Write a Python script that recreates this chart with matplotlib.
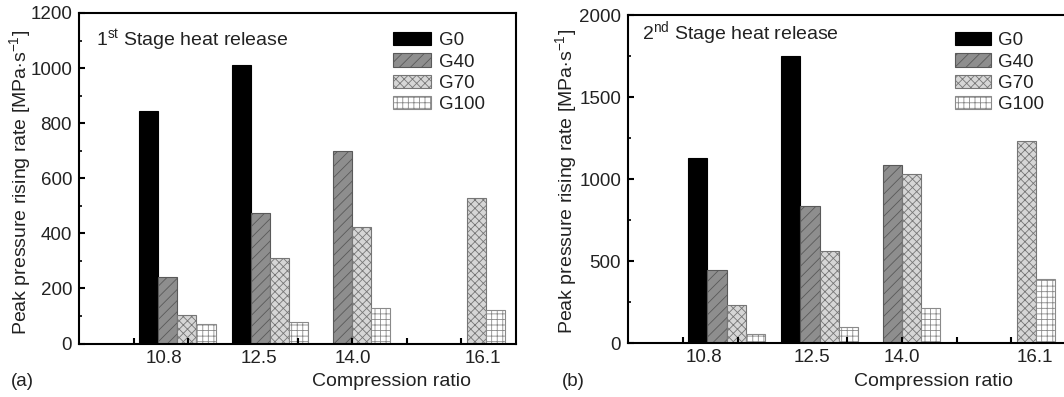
import numpy as np
import matplotlib
matplotlib.use("Agg")
import matplotlib.pyplot as plt
from matplotlib.ticker import MultipleLocator

plt.rcParams['font.family'] = ['Liberation Sans', 'DejaVu Sans']
plt.rcParams['mathtext.fontset'] = 'custom'
plt.rcParams['mathtext.rm'] = 'Liberation Sans'
plt.rcParams['mathtext.it'] = 'Liberation Sans:italic'
plt.rcParams['mathtext.bf'] = 'Liberation Sans:bold'
plt.rcParams['hatch.linewidth'] = 0.6

# ---- data ----
compression_ratio = [10.8, 12.5, 14.0, 16.1]
tick_labels = ["10.8", "12.5", "14.0", "16.1"]
series = ["G0", "G40", "G70", "G100"]

stage1_G0 = [845, 1010, np.nan, np.nan]
stage1_G40 = [240, 475, 700, np.nan]
stage1_G70 = [105, 312, 422, 527]
stage1_G100 = [70, 78, 130, 120]

stage2_G0 = [1128, 1752, np.nan, np.nan]
stage2_G40 = [448, 838, 1088, np.nan]
stage2_G70 = [230, 563, 1030, 1233]
stage2_G100 = [57, 98, 216, 388]

# ---- styles ----
W, H = 1064, 397
fig = plt.figure(figsize=(W / 100, H / 100), dpi=100)

styles = {
    "G0": dict(facecolor="black", edgecolor="black", hatch=None),
    "G40": dict(facecolor="#8e8e8e", edgecolor="#595959", hatch="///"),
    "G70": dict(facecolor="#d6d6d6", edgecolor="#767676", hatch="xxxx"),
    "G100": dict(facecolor="white", edgecolor="#8a8a8a", hatch="+++"),
}

text_color = "#222222"


def px_axes(left, right, top, bottom):
    return fig.add_axes([left / W, 1 - bottom / H, (right - left) / W, (bottom - top) / H])


def draw_panel(ax, data, ymax, ymajor, yminor, label_pos, legend_anchor, title, title_xy,
               panel_letter, letter_xy, xlabel_xy, ylabel_xy, handlelength):
    width = 0.35
    for i, name in enumerate(series):
        xs = [c + (i - 1.5) * width for c in compression_ratio]
        st = styles[name]
        ax.bar(xs, data[i], width=width, facecolor=st["facecolor"], edgecolor=st["edgecolor"],
               hatch=st["hatch"], linewidth=0.8, label=name)
    ax.set_xlim(9, 17)
    ax.set_ylim(0, ymax)
    ax.yaxis.set_major_locator(MultipleLocator(ymajor))
    ax.yaxis.set_minor_locator(MultipleLocator(yminor))
    ax.xaxis.remove_overlapping_locs = False
    ax.set_xticks(np.arange(10, 17))
    ax.set_xticklabels([])
    ax.set_xticks(label_pos, tick_labels, minor=True)
    ax.tick_params(axis='x', which='major', direction='in', length=4, width=1.5)
    ax.tick_params(axis='x', which='minor', length=0, pad=4.5, labelsize=13.5, labelcolor=text_color)
    ax.tick_params(axis='y', which='major', direction='in', length=4, width=1.5, pad=5,
                   labelsize=13.5, labelcolor=text_color)
    ax.tick_params(axis='y', which='minor', direction='in', length=2, width=1.2)
    for s in ax.spines.values():
        s.set_linewidth(1.5)
    leg = ax.legend(loc='upper left', bbox_to_anchor=legend_anchor, bbox_transform=fig.transFigure,
                    frameon=False, fontsize=13.5, handlelength=handlelength, handleheight=0.72,
                    labelspacing=0.22, handletextpad=0.4, borderpad=0, borderaxespad=0)
    for t in leg.get_texts():
        t.set_color(text_color)
    fig.text(title_xy[0] / W, 1 - title_xy[1] / H, title, fontsize=14, ha='left', va='center',
             color=text_color)
    fig.text(letter_xy[0] / W, 1 - letter_xy[1] / H, panel_letter, fontsize=13.5, ha='center',
             va='center', color=text_color)
    fig.text(xlabel_xy[0] / W, 1 - xlabel_xy[1] / H, "Compression ratio", fontsize=14,
             ha='center', va='center', color=text_color)
    fig.text(ylabel_xy[0] / W, 1 - ylabel_xy[1] / H,
             r"Peak pressure rising rate [MPa$\cdot$s$^{-1}$]", fontsize=14, rotation=90,
             ha='center', va='center', color=text_color)


ax1 = px_axes(79, 516, 13, 343.5)
draw_panel(ax1, [stage1_G0, stage1_G40, stage1_G70, stage1_G100], 1200, 200, 100,
           [10.56, 12.3, 14.01, 16.4], (393 / W, 1 - 32 / H),
           r"1$^{\mathrm{st}}$ Stage heat release", (96, 40), "(a)", (22, 381), (392, 381),
           (20.5, 182), 2.05)

ax2 = px_axes(628, 1066, 15, 343)
draw_panel(ax2, [stage2_G0, stage2_G40, stage2_G70, stage2_G100], 2000, 500, 250,
           [10.39, 12.36, 14.0, 16.44], (955 / W, 1 - 32 / H),
           r"2$^{\mathrm{nd}}$ Stage heat release", (642, 33), "(b)", (573, 381), (933, 381),
           (566, 181), 1.9)

fig.savefig("out.png", dpi=100)
